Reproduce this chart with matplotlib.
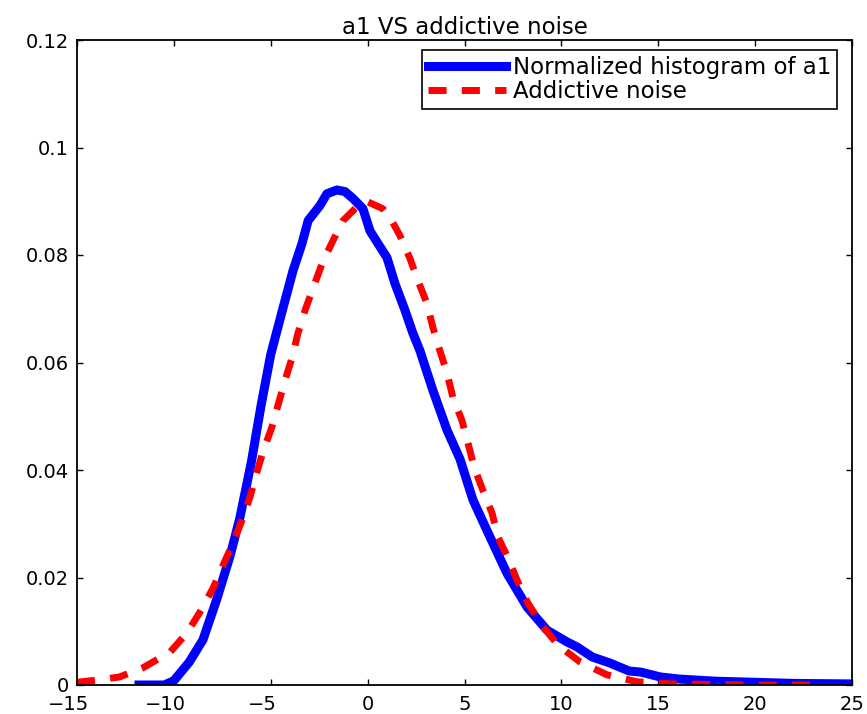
import numpy as np
import matplotlib
matplotlib.use('Agg')
import matplotlib.pyplot as plt
import matplotlib.transforms as mtransforms

plt.rcParams['font.family'] = ['DejaVu Sans']

# normalized histogram of a1
hist_x = [-11.8, -10.5, -10.0, -9.2, -8.5, -7.8, -7.1, -6.6, -6.0, -5.5,
          -5.0, -4.4, -3.85, -3.39, -3.07, -2.46, -2.1, -1.58, -1.17, -0.75,
          -0.24, 0.12, 0.54, 1.0, 1.41, 1.93, 2.34, 2.7, 3.37, 4.1,
          4.77, 5.44, 6.32, 7.19, 8.23, 9.26, 10.3, 10.8, 11.6, 12.5,
          13.5, 14.1, 15.1, 16.1, 18.0, 20.0, 22.0, 25.0]
hist_y = [0.0, 0.0, 0.0008, 0.0043, 0.0084, 0.0158, 0.024, 0.031, 0.0415, 0.052,
          0.0615, 0.0697, 0.0771, 0.0821, 0.0864, 0.0892, 0.0914, 0.0921, 0.0918, 0.0905,
          0.0886, 0.0845, 0.0821, 0.0795, 0.0747, 0.0697, 0.0654, 0.0622, 0.0548, 0.0474,
          0.042, 0.0344, 0.0275, 0.0208, 0.0145, 0.0102, 0.008, 0.0071, 0.0052, 0.0041,
          0.0026, 0.0024, 0.0015, 0.0011, 0.0007, 0.0005, 0.0003, 0.0002]

# additive noise density
noise_x = [-15.0, -14.0, -12.8, -11.6, -10.2, -9.3, -8.65, -7.98, -7.46, -6.95,
           -6.48, -6.07, -5.7, -5.4, -4.94, -4.6, -4.26, -3.9, -3.6, -3.23,
           -2.8, -2.35, -1.84, -1.27, -0.4, 0.0, 0.79, 1.15, 1.67, 2.19,
           2.6, 3.06, 3.37, 3.73, 4.1, 4.4, 4.87, 5.18, 5.5, 5.95,
           6.42, 6.73, 7.25, 7.76, 8.28, 9.0, 9.83, 10.96, 12.35, 13.9,
           15.76, 18.0, 20.0, 23.0]
noise_y = [0.0005, 0.0009, 0.0015, 0.0032, 0.0061, 0.0098, 0.0136, 0.018, 0.0223, 0.0264,
           0.0307, 0.035, 0.0398, 0.0434, 0.048, 0.0524, 0.0567, 0.0609, 0.0654, 0.0697,
           0.074, 0.0784, 0.0823, 0.0864, 0.0895, 0.0899, 0.0886, 0.087, 0.0836, 0.0793,
           0.0752, 0.071, 0.0665, 0.0622, 0.058, 0.0535, 0.0492, 0.045, 0.0405, 0.0362,
           0.032, 0.0275, 0.0236, 0.0191, 0.0152, 0.0111, 0.0074, 0.0043, 0.0019, 0.0006,
           0.0002, 0.0001, 0.0, 0.0]

yticks = [0, 0.02, 0.04, 0.06, 0.08, 0.1, 0.12]
xticks = [-15, -10, -5, 0, 5, 10, 15, 20, 25]

fig = plt.figure(figsize=(8.67, 7.14), dpi=100)
ax = fig.add_axes([77 / 867, 29 / 714, 775 / 867, 645 / 714])

ax.plot(hist_x, hist_y, color='#0000ff', linewidth=6.5, solid_joinstyle='round',
        label='Normalized histogram of a1')
ax.plot(noise_x, noise_y, color='#ff0000', linewidth=5, linestyle=(0, (2.6, 2.2)),
        label='Addictive noise')

ax.set_xlim(-15, 25)
ax.set_ylim(0, 0.12)
ax.set_xticks(xticks)
ax.set_yticks(yticks)
ax.set_yticklabels([f'{v:g}' for v in yticks])
ax.tick_params(direction='in', length=4.5, width=1, top=True, right=True,
               labelsize=14)
ax.tick_params(axis='y', pad=6)
ax.tick_params(axis='x', pad=7.5)
for s in ax.spines.values():
    s.set_linewidth(1.3)

# negative labels sit a little left of their ticks in the original
shift = mtransforms.ScaledTranslation(-8 / 100, 0, fig.dpi_scale_trans)
for lab, v in zip(ax.get_xticklabels(), xticks):
    if v < 0:
        lab.set_transform(lab.get_transform() + shift)

ax.set_title('a1 VS addictive noise', fontsize=16.5, pad=4)

leg = ax.legend(loc='upper right', bbox_to_anchor=(0.9806, 0.9845), borderaxespad=0,
                fontsize=16.5, handlelength=3.4, fancybox=False, framealpha=1,
                edgecolor='black', borderpad=0.25, labelspacing=0.05, handletextpad=0.3)
leg.get_frame().set_linewidth(1.2)

fig.savefig('out.png', dpi=100)
